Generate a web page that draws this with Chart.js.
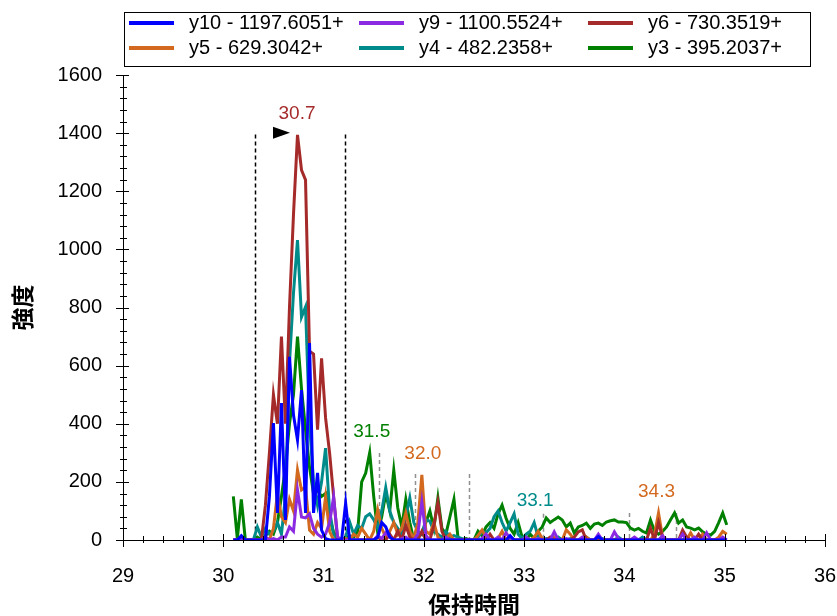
<!DOCTYPE html>
<html>
<head>
<meta charset="utf-8">
<script src="https://cdn.jsdelivr.net/npm/chart.js@4.4.1/dist/chart.umd.min.js"></script>
<style>
  body { margin: 0; background: #fff; }
  canvas { display: block; }
</style>
</head>
<body>
<canvas id="xic_chart" width="837" height="616"></canvas>
<script>
// Retention times (min) shared by every transition trace.
const times = [
  30.10, 30.14, 30.18, 30.22, 30.26, 30.30, 30.34, 30.38, 30.42, 30.46,
  30.50, 30.54, 30.58, 30.62, 30.66, 30.70, 30.74, 30.78, 30.82, 30.86,
  30.90, 30.94, 30.98, 31.02, 31.06, 31.10, 31.14, 31.18, 31.22, 31.26,
  31.30, 31.34, 31.38, 31.42, 31.46, 31.50, 31.54, 31.58, 31.62, 31.66,
  31.70, 31.74, 31.78, 31.82, 31.86, 31.90, 31.94, 31.98, 32.02, 32.06,
  32.10, 32.14, 32.18, 32.22, 32.26, 32.30, 32.34, 32.38, 32.42, 32.46,
  32.50, 32.54, 32.58, 32.62, 32.66, 32.70, 32.74, 32.78, 32.82, 32.86,
  32.90, 32.94, 32.98, 33.02, 33.06, 33.10, 33.14, 33.18, 33.22, 33.26,
  33.30, 33.34, 33.38, 33.42, 33.46, 33.50, 33.54, 33.58, 33.62, 33.66,
  33.70, 33.74, 33.78, 33.82, 33.86, 33.90, 33.94, 33.98, 34.02, 34.06,
  34.10, 34.14, 34.18, 34.22, 34.26, 34.30, 34.34, 34.38, 34.42, 34.46,
  34.50, 34.54, 34.58, 34.62, 34.66, 34.70, 34.74, 34.78, 34.82, 34.86,
  34.90, 34.94, 34.98, 35.02
];

// Intensities per transition
const y10 = [
  0, 0, 15, 0, 0, 0, 0, 0, 0, 150,
  402, 93, 471, 69, 630, 430, 344, 516, 93, 678,
  93, 231, 34, 5, 0, 0, 0, 0, 127, 0,
  0, 0, 0, 0, 0, 0, 10, 60, 45, 10,
  0, 0, 0, 0, 0, 0, 0, 0, 0, 0,
  0, 0, 0, 0, 0, 0, 0, 0, 0, 0,
  0, 0, 0, 0, 0, 0, 0, 0, 0, 15,
  0, 0, 0, 0, 0, 0, 0, 0, 0, 0,
  0, 0, 0, 0, 0, 0, 0, 0, 0, 0,
  0, 12, 0, 0, 0, 0, 0, 0, 0, 0,
  0, 0, 0, 0, 0, 0, 0, 0, 0, 0,
  0, 0, 0, 0, 0, 0, 0, 0, 0, 0,
  0, 0, 0, 0
];
const y9 = [
  0, 0, 5, 0, 0, 0, 0, 0, 10, 0,
  5, 0, 10, 10, 45, 30, 172, 79, 76, 90,
  40, 20, 10, 20, 60, 148, 10, 0, 0, 0,
  0, 0, 0, 0, 0, 0, 15, 5, 25, 10,
  0, 0, 5, 10, 0, 0, 20, 131, 15, 0,
  0, 0, 0, 10, 0, 0, 0, 0, 0, 0,
  0, 0, 5, 20, 0, 0, 10, 0, 25, 5,
  0, 0, 0, 10, 0, 0, 5, 0, 0, 0,
  28, 0, 0, 5, 0, 0, 0, 10, 0, 0,
  0, 20, 0, 0, 0, 28, 5, 0, 0, 0,
  10, 0, 0, 0, 0, 0, 0, 15, 0, 0,
  0, 0, 20, 0, 0, 10, 0, 0, 25, 0,
  0, 0, 10, 0
];
const y6 = [
  0, 0, 0, 0, 0, 0, 0, 0, 120, 300,
  500, 400, 700, 400, 800, 1120, 1394, 1273, 1239, 650,
  640, 380, 625, 420, 300, 150, 0, 0, 0, 0,
  0, 0, 0, 0, 0, 0, 10, 0, 0, 20,
  0, 30, 0, 50, 10, 0, 0, 30, 0, 0,
  50, 130, 30, 0, 0, 0, 0, 0, 0, 0,
  0, 0, 0, 0, 20, 0, 0, 0, 0, 0,
  0, 0, 0, 0, 0, 0, 0, 0, 0, 10,
  0, 0, 0, 0, 0, 10, 28, 35, 0, 0,
  0, 0, 0, 0, 0, 0, 0, 0, 0, 0,
  0, 0, 0, 0, 41, 0, 60, 10, 0, 0,
  0, 0, 34, 10, 0, 0, 20, 0, 0, 0,
  0, 0, 0, 0
];
const y5 = [
  0, 0, 0, 0, 0, 0, 0, 0, 10, 0,
  40, 160, 80, 60, 140, 100, 241, 172, 182, 34,
  20, 60, 40, 148, 30, 0, 0, 0, 5, 0,
  20, 10, 40, 20, 0, 30, 103, 40, 10, 30,
  60, 20, 40, 93, 30, 5, 60, 224, 30, 20,
  60, 10, 0, 5, 20, 0, 0, 0, 0, 0,
  0, 15, 34, 10, 0, 0, 5, 30, 0, 10,
  0, 0, 0, 0, 0, 10, 30, 5, 0, 0,
  10, 0, 0, 35, 20, 0, 0, 0, 10, 0,
  0, 0, 0, 0, 0, 0, 0, 0, 0, 0,
  0, 0, 0, 0, 0, 20, 93, 10, 0, 0,
  0, 0, 0, 0, 25, 0, 0, 20, 0, 0,
  0, 10, 30, 20
];
const y4 = [
  0, 0, 0, 0, 0, 0, 45, 10, 40, 20,
  30, 60, 20, 150, 609, 850, 1032, 767, 802, 400,
  200, 120, 200, 316, 100, 20, 0, 0, 10, 62,
  20, 50, 40, 80, 90, 70, 40, 100, 180, 100,
  60, 40, 20, 80, 145, 60, 30, 20, 70, 65,
  30, 20, 10, 30, 10, 15, 10, 5, 0, 0,
  0, 10, 30, 25, 40, 80, 100, 60, 30, 60,
  90, 20, 5, 20, 30, 60, 10, 0, 5, 0,
  0, 10, 0, 0, 5, 0, 0, 0, 10, 0,
  0, 0, 5, 0, 0, 0, 10, 0, 0, 0,
  0, 0, 10, 0, 0, 0, 0, 0, 0, 0,
  0, 0, 0, 10, 0, 0, 0, 10, 0, 0,
  0, 0, 0, 0
];
const y3 = [
  150, 5, 140, 0, 0, 0, 10, 0, 15, 30,
  20, 60, 150, 250, 400, 500, 700, 520, 380, 250,
  160, 170, 150, 160, 80, 25, 10, 0, 5, 15,
  10, 30, 200, 230, 300, 150, 25, 80, 160, 100,
  240, 110, 45, 140, 60, 0, 10, 20, 60, 100,
  40, 145, 40, 20, 80, 140, 10, 0, 5, 0,
  0, 30, 15, 45, 60, 40, 90, 120, 75, 40,
  20, 60, 10, 0, 20, 5, 30, 45, 76, 60,
  70, 79, 69, 45, 58, 24, 45, 50, 58, 40,
  55, 58, 50, 62, 66, 69, 62, 62, 60, 41,
  34, 40, 30, 24, 69, 30, 20, 30, 45, 70,
  93, 58, 69, 45, 41, 35, 41, 28, 20, 17,
  30, 60, 93, 52
];

const seriesNames = ['y10 - 1197.6051+', 'y9 - 1100.5524+', 'y6 - 730.3519+',
                     'y5 - 629.3042+', 'y4 - 482.2358+', 'y3 - 395.2037+'];
const seriesColors = ['#0000ff', '#8a2be2', '#a52a2a', '#d2691e', '#008b8b', '#008000'];
const seriesValues = [y10, y9, y6, y5, y4, y3];

// Integration boundaries (black dashed) and other peak markers (grey dashed)
const boundaryTimes = [30.316, 31.213];
const boundaryTop = 1395;
const markerTimes = [31.55, 31.91, 32.45, 33.19, 34.05, 34.51];
const markerTops = [299, 227, 227, 90, 93, 93];

// Retention time labels over peaks
const peakLabels = ['30.7', '31.5', '32.0', '33.1', '34.3'];
const peakTimes = [30.735, 31.48, 31.99, 33.11, 34.32];
const peakValues = [1394, 300, 224, 62, 93];
const peakColors = ['#a52a2a', '#008000', '#d2691e', '#008b8b', '#d2691e'];

const FONT = '"Liberation Sans", Arial, sans-serif';
const CJK = '"Noto Sans CJK JP", "Noto Sans CJK SC", sans-serif';

const datasets = seriesValues.map((vals, k) => ({
  label: seriesNames[k],
  data: times.map((t, i) => ({ x: t, y: vals[i] })),
  borderColor: seriesColors[k],
  backgroundColor: seriesColors[k],
  borderWidth: 3,
  pointRadius: 0,
  tension: 0,
  fill: false
}));

// Minor/major tick marks, dashed markers, peak labels and boxed legend
const overlayPlugin = {
  id: 'overlay',
  beforeDatasetsDraw(chart) {
    const ctx = chart.ctx;
    const xs = chart.scales.x, ys = chart.scales.y;
    ctx.save();
    ctx.lineWidth = 1.5;
    ctx.setLineDash([4, 3]);
    ctx.strokeStyle = '#000';
    boundaryTimes.forEach(t => {
      const px = Math.round(xs.getPixelForValue(t)) + 0.5;
      ctx.beginPath();
      ctx.moveTo(px, ys.getPixelForValue(boundaryTop));
      ctx.lineTo(px, ys.getPixelForValue(0));
      ctx.stroke();
    });
    ctx.strokeStyle = '#909090';
    markerTimes.forEach((t, i) => {
      const px = Math.round(xs.getPixelForValue(t)) + 0.5;
      ctx.beginPath();
      ctx.moveTo(px, ys.getPixelForValue(markerTops[i]));
      ctx.lineTo(px, ys.getPixelForValue(0));
      ctx.stroke();
    });
    ctx.restore();
  },
  afterDraw(chart) {
    const ctx = chart.ctx;
    const xs = chart.scales.x, ys = chart.scales.y;
    const area = chart.chartArea;
    ctx.save();

    // tick marks crossing the axes
    ctx.strokeStyle = '#000';
    ctx.lineWidth = 1;
    for (let i = 0; i <= 35; i++) {
      const v = 29 + i * 0.2;
      const px = Math.round(xs.getPixelForValue(v)) + 0.5;
      const major = i % 5 === 0;
      ctx.beginPath();
      ctx.moveTo(px, area.bottom - (major ? 6 : 4));
      ctx.lineTo(px, area.bottom + (major ? 7 : 3));
      ctx.stroke();
    }
    for (let i = 0; i <= 40; i++) {
      const v = i * 40;
      const py = Math.round(ys.getPixelForValue(v)) + 0.5;
      const major = i % 5 === 0;
      ctx.beginPath();
      ctx.moveTo(area.left - (major ? 7 : 3), py);
      ctx.lineTo(area.left + (major ? 6 : 4), py);
      ctx.stroke();
    }

    // peak retention time labels
    ctx.font = '19px ' + FONT;
    ctx.textAlign = 'center';
    ctx.textBaseline = 'middle';
    peakLabels.forEach((txt, i) => {
      ctx.fillStyle = peakColors[i];
      ctx.fillText(txt, xs.getPixelForValue(peakTimes[i]), ys.getPixelForValue(peakValues[i]) - 21);
    });

    // arrow pointing at the chosen peak
    const ax = xs.getPixelForValue(peakTimes[0]) - 7;
    const ay = ys.getPixelForValue(peakValues[0]) - 2;
    ctx.fillStyle = '#000';
    ctx.beginPath();
    ctx.moveTo(ax, ay);
    ctx.lineTo(ax - 17, ay - 6);
    ctx.lineTo(ax - 17, ay + 6);
    ctx.closePath();
    ctx.fill();

    // legend box
    ctx.lineWidth = 1;
    ctx.strokeStyle = '#000';
    ctx.strokeRect(124.5, 12.5, 686, 54);
    const colX = [129, 359, 588];
    const rowY = [23, 48];
    ctx.textAlign = 'left';
    ctx.font = '20px ' + FONT;
    seriesNames.forEach((name, k) => {
      const x = colX[k % 3], y = rowY[Math.floor(k / 3)];
      ctx.strokeStyle = seriesColors[k];
      ctx.lineWidth = 4;
      ctx.beginPath();
      ctx.moveTo(x, y);
      ctx.lineTo(x + 45, y);
      ctx.stroke();
      ctx.fillStyle = '#000';
      ctx.fillText(name, x + 60, y);
    });
    ctx.restore();
  }
};

const xic_chart = document.getElementById('xic_chart');

let chart = new Chart(xic_chart, {
  type: 'line',
  data: { datasets: datasets },
  options: {
    responsive: false,
    animation: false,
    events: [],
    layout: { padding: { top: 75, right: 12, left: 0, bottom: 0 } },
    plugins: {
      legend: { display: false },
      tooltip: { enabled: false }
    },
    scales: {
      x: {
        type: 'linear',
        min: 29,
        max: 36,
        ticks: { stepSize: 1, color: '#000', padding: 24, font: { size: 20, family: FONT } },
        grid: { display: false, drawTicks: false },
        border: { display: true, color: '#000', width: 1 },
        title: {
          display: true,
          text: '保持時間',
          color: '#000',
          padding: { top: 0, bottom: 0 },
          font: { size: 23, weight: 'bold', family: CJK, lineHeight: 1.0 }
        },
        afterFit(scale) {
          scale.height = 76;
          scale.paddingLeft = 0;
          scale.paddingRight = 12;
        }
      },
      y: {
        min: 0,
        max: 1600,
        ticks: {
          stepSize: 200,
          color: '#000',
          padding: 21,
          font: { size: 20, family: FONT },
          callback: v => String(v)
        },
        grid: { display: false, drawTicks: false },
        border: { display: true, color: '#000', width: 1 },
        title: {
          display: true,
          text: '強度',
          color: '#000',
          padding: { top: 11, bottom: 0 },
          font: { size: 23, weight: 'bold', family: CJK, lineHeight: 1.0 }
        },
        afterFit(scale) { scale.width = 123; }
      }
    }
  },
  plugins: [overlayPlugin]
});
</script>
</body>
</html>
